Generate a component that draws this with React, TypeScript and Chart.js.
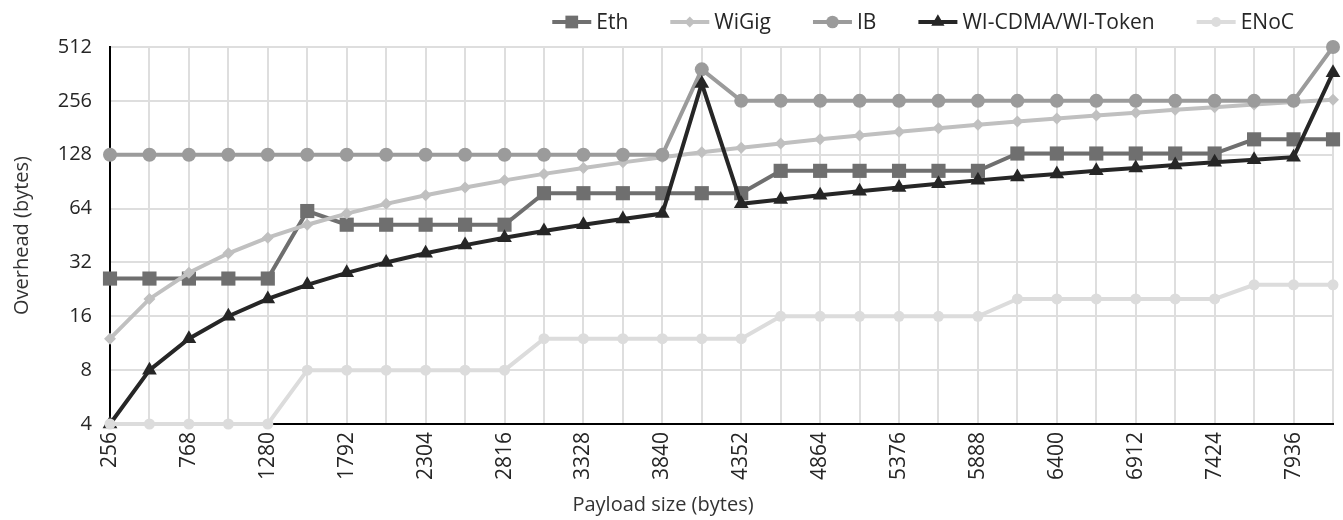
import React, { useEffect, useRef } from 'react';
import { Chart, registerables } from 'chart.js';

Chart.register(...registerables);

const categories = [
  '256', '512', '768', '1024', '1280', '1536', '1792', '2048',
  '2304', '2560', '2816', '3072', '3328', '3584', '3840', '4096',
  '4352', '4608', '4864', '5120', '5376', '5632', '5888', '6144',
  '6400', '6656', '6912', '7168', '7424', '7680', '7936', '8192',
];

const ethValues = [26, 26, 26, 26, 26, 62, 52, 52, 52, 52, 52, 78, 78, 78, 78, 78, 78, 104, 104, 104, 104, 104, 104, 130, 130, 130, 130, 130, 130, 156, 156, 156];
const wigigValues = [12, 20, 28, 36, 44, 52, 60, 68, 76, 84, 92, 100, 108, 116, 124, 132, 140, 148, 156, 164, 172, 180, 188, 196, 204, 212, 220, 228, 236, 244, 252, 260];
const ibValues = [128, 128, 128, 128, 128, 128, 128, 128, 128, 128, 128, 128, 128, 128, 128, 384, 256, 256, 256, 256, 256, 256, 256, 256, 256, 256, 256, 256, 256, 256, 256, 512];
const wiValues = [4, 8, 12, 16, 20, 24, 28, 32, 36, 40, 44, 48, 52, 56, 60, 320, 68, 72, 76, 80, 84, 88, 92, 96, 100, 104, 108, 112, 116, 120, 124, 368];
const enocValues = [4, 4, 4, 4, 4, 8, 8, 8, 8, 8, 8, 12, 12, 12, 12, 12, 12, 16, 16, 16, 16, 16, 16, 20, 20, 20, 20, 20, 20, 24, 24, 24];

const seriesLabels = ['Eth', 'WiGig', 'IB', 'WI-CDMA/WI-Token', 'ENoC'];
const yTickValues = [4, 8, 16, 32, 64, 128, 256, 512];
const xTitle = 'Payload size (bytes)';
const yTitle = 'Overhead (bytes)';

const FONT = "'Open Sans', 'Liberation Sans', sans-serif";
const TEXT = '#262626';

function drawMarker(ctx: CanvasRenderingContext2D, style: string, x: number, y: number, r: number, color: string) {
  ctx.fillStyle = color;
  ctx.beginPath();
  if (style === 'rect') {
    const h = r * Math.SQRT1_2;
    ctx.rect(x - h, y - h, 2 * h, 2 * h);
  } else if (style === 'rectRot') {
    ctx.moveTo(x, y - r);
    ctx.lineTo(x + r, y);
    ctx.lineTo(x, y + r);
    ctx.lineTo(x - r, y);
    ctx.closePath();
  } else if (style === 'triangle') {
    ctx.moveTo(x, y - r);
    ctx.lineTo(x + r * Math.sin((2 * Math.PI) / 3), y + r * 0.5);
    ctx.lineTo(x - r * Math.sin((2 * Math.PI) / 3), y + r * 0.5);
    ctx.closePath();
  } else {
    ctx.arc(x, y, r, 0, Math.PI * 2);
  }
  ctx.fill();
}

const legendPlugin = {
  id: 'lineMarkerLegend',
  afterDraw(chart: any) {
    const ctx: CanvasRenderingContext2D = chart.ctx;
    ctx.save();
    ctx.font = `21px ${FONT}`;
    const lineLen = 39;
    const gapText = 5;
    const gapItem = 42;
    const y = 22;
    const items = chart.data.datasets.map((ds: any) => ({ ds, w: ctx.measureText(ds.label).width }));
    const total = items.reduce((s: number, it: any) => s + lineLen + gapText + it.w, 0) + gapItem * (items.length - 1);
    let x = 1294 - total;
    items.forEach(({ ds, w }: any) => {
      ctx.strokeStyle = ds.borderColor;
      ctx.lineWidth = ds.borderWidth;
      ctx.beginPath();
      ctx.moveTo(x, y);
      ctx.lineTo(x + lineLen, y);
      ctx.stroke();
      drawMarker(ctx, ds.pointStyle, x + lineLen / 2, y, ds.pointRadius * 0.9, ds.borderColor);
      ctx.fillStyle = TEXT;
      ctx.textAlign = 'left';
      ctx.textBaseline = 'middle';
      ctx.fillText(ds.label, x + lineLen + gapText, y + 1);
      x += lineLen + gapText + w + gapItem;
    });

    // x-axis title (offset left of the plot centre, as in the source)
    ctx.font = `20px ${FONT}`;
    ctx.fillStyle = '#333';
    ctx.textAlign = 'center';
    ctx.textBaseline = 'middle';
    ctx.fillText(xTitle, 663, 505);
    ctx.restore();
  },
};

export default function App() {
  const canvasRef = useRef<HTMLCanvasElement | null>(null);

  useEffect(() => {
    if (!canvasRef.current) return;
    const mk = (label: string, data: number[], color: string, pointStyle: string, radius: number, order: number) => ({
      label,
      data,
      borderColor: color,
      backgroundColor: color,
      pointBackgroundColor: color,
      pointBorderColor: color,
      pointBorderWidth: 0,
      borderWidth: 4,
      pointStyle,
      pointRadius: radius,
      tension: 0,
      clip: false as const,
      order,
    });
    const chart = new Chart(canvasRef.current, {
      type: 'line',
      data: {
        labels: categories,
        datasets: [
          mk(seriesLabels[0], ethValues, '#6f6f6f', 'rect', 10, 5),
          mk(seriesLabels[1], wigigValues, '#c0c0c0', 'rectRot', 6, 4),
          mk(seriesLabels[2], ibValues, '#9b9b9b', 'circle', 7, 3),
          mk(seriesLabels[3], wiValues, '#262626', 'triangle', 8.5, 2),
          mk(seriesLabels[4], enocValues, '#dcdcdc', 'circle', 5.5, 1),
        ] as any,
      },
      options: {
        animation: false,
        responsive: false,
        layout: { padding: { top: 47, right: 6, left: 0, bottom: 0 } },
        plugins: {
          legend: { display: false },
          tooltip: { enabled: false },
        },
        scales: {
          x: {
            type: 'category',
            offset: false,
            grid: { color: '#dedede', lineWidth: 2, drawTicks: false, offset: false },
            border: { color: '#000', width: 2 },
            ticks: {
              autoSkip: false,
              maxRotation: 90,
              minRotation: 90,
              padding: 8,
              color: TEXT,
              font: { family: FONT, size: 21 },
              callback: (_v: any, i: number) => (i % 2 === 0 ? categories[i] : ''),
            },
            title: { display: false, text: xTitle },
            afterFit: (scale: any) => {
              scale.height = 96;
              scale.paddingLeft = 0;
              scale.paddingRight = 0;
            },
          },
          y: {
            type: 'logarithmic',
            min: 4,
            max: 512,
            grid: { color: '#dedede', lineWidth: 2, drawTicks: false },
            border: { color: '#000', width: 2 },
            afterBuildTicks: (scale: any) => {
              scale.ticks = yTickValues.map((v) => ({ value: v }));
            },
            ticks: {
              padding: 18,
              color: TEXT,
              font: { family: FONT, size: 20 },
              callback: (v: any) => String(v),
            },
            title: {
              display: true,
              text: yTitle,
              color: '#333',
              font: { family: FONT, size: 20 },
              padding: { top: 10, bottom: 0 },
            },
            afterFit: (scale: any) => {
              scale.width = 110;
            },
          },
        },
      } as any,
      plugins: [legendPlugin],
    });
    return () => chart.destroy();
  }, []);

  return (
    <div style={{ position: 'fixed', left: 0, top: 0, width: 1343, height: 520, background: '#fff' }}>
      <canvas ref={canvasRef} width={1343} height={520} style={{ display: 'block' }} />
    </div>
  );
}
